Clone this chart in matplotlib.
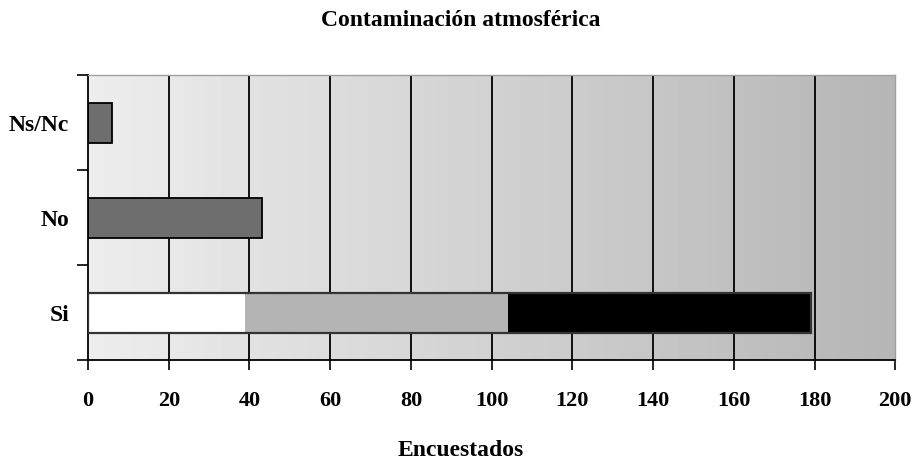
import numpy as np
import matplotlib.pyplot as plt

# datos
categorias = ["Si", "No", "Ns/Nc"]
ns_nc = 6
no = 43
si_partes = [39, 65, 75]          # tramos apilados de la barra "Si"
si_colores = ["white", "#b4b4b4", "black"]
xticks = list(range(0, 201, 20))

plt.rcParams['font.family'] = ['Liberation Serif', 'DejaVu Serif']
plt.rcParams['font.weight'] = 'bold'

fig = plt.figure(figsize=(9.22, 4.61), dpi=100)
ax = fig.add_axes([0.0955, 0.219, 0.8755, 0.618])

# fondo degradado
grad = np.linspace(0.93, 0.71, 200).reshape(1, -1)
ax.imshow(grad, extent=[0, 200, -0.5, 2.5], aspect='auto', cmap='gray',
          vmin=0, vmax=1, zorder=0)

for x in xticks[1:-1]:
    ax.axvline(x, color='black', lw=1.3, zorder=1)

h = 0.42
ax.barh(2, ns_nc, height=h, color='#6e6e6e', edgecolor='black', lw=1.3, zorder=2)
ax.barh(1, no, height=h, color='#6e6e6e', edgecolor='black', lw=1.3, zorder=2)
izq = 0
for v, c in zip(si_partes, si_colores):
    ax.barh(0, v, left=izq, height=h, color=c, edgecolor='none', zorder=2)
    izq += v
ax.barh(0, izq, height=h, color='none', edgecolor='#333333', lw=1.6, zorder=3)

ax.set_xlim(0, 200)
ax.set_ylim(-0.5, 2.5)
ax.set_xticks(xticks)
ax.set_xticklabels([str(x) for x in xticks], fontsize=16, fontweight='bold')
ax.set_yticks([-0.5, 0.5, 1.5, 2.5])
ax.set_yticklabels([])
ax.set_yticks([0, 1, 2], minor=True)
ax.set_yticklabels(categorias, minor=True, fontsize=17, fontweight='bold')
ax.tick_params(axis='y', which='minor', length=0, pad=13.5)
ax.tick_params(axis='y', which='major', length=8, width=1.2, direction='out')
ax.tick_params(axis='x', length=7, width=1.2, direction='out', pad=15)

for s in ['top', 'right']:
    ax.spines[s].set_color('#a0a0a0')
    ax.spines[s].set_linewidth(1)
for s in ['left', 'bottom']:
    ax.spines[s].set_color('black')
    ax.spines[s].set_linewidth(1.3)

fig.text(0.5, 0.955, "Contaminación atmosférica", ha='center', va='center',
         fontsize=17, fontweight='bold')
fig.text(0.5, 0.022, "Encuestados", ha='center', va='center',
         fontsize=17, fontweight='bold')

fig.savefig("out.png", dpi=100)
